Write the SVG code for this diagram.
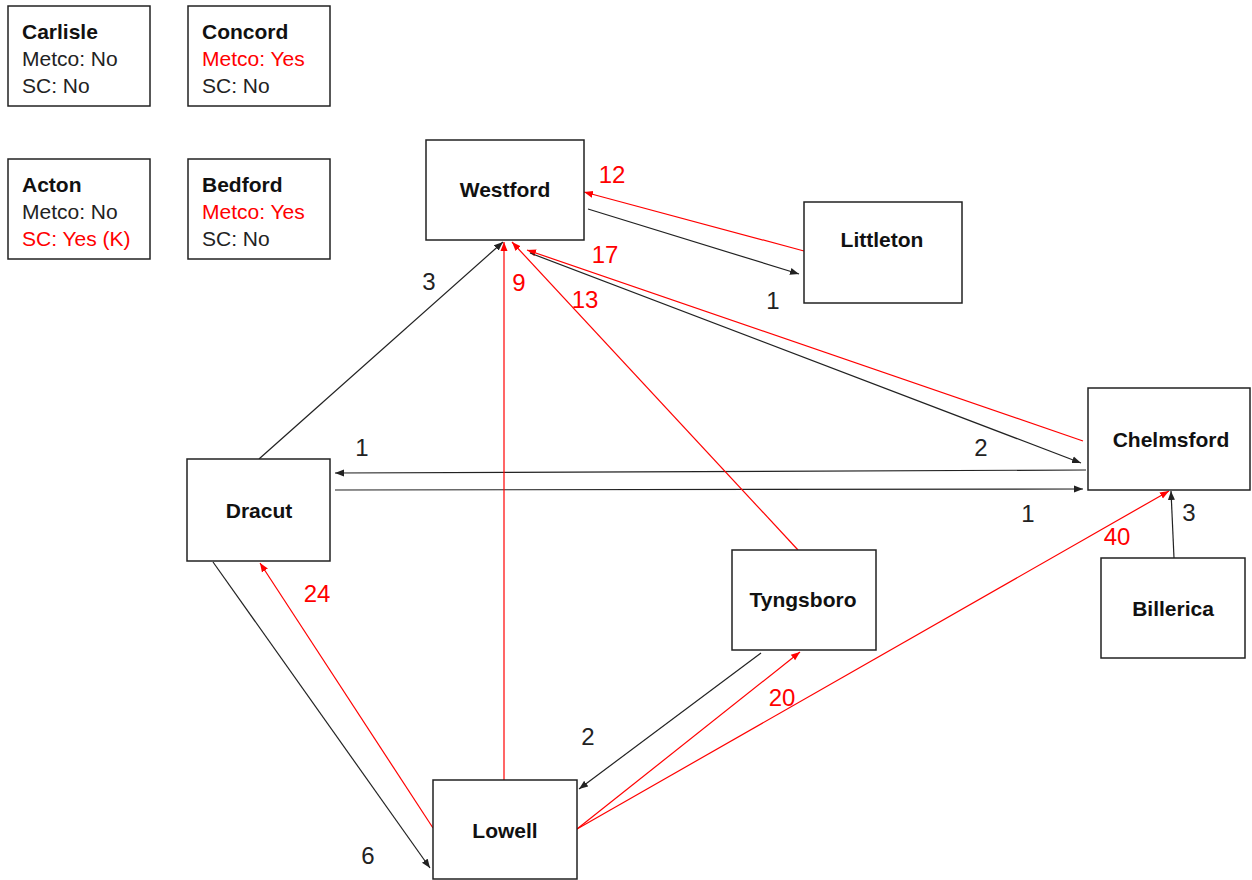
<svg xmlns="http://www.w3.org/2000/svg" width="1252" height="880" viewBox="0 0 1252 880">
<style>
.box{fill:#fff;stroke:#222;stroke-width:1.5}
.nl{font-family:"Liberation Sans",Arial,sans-serif;font-size:21px;font-weight:bold;fill:#111;text-anchor:middle}
.it{font-family:"Liberation Sans",Arial,sans-serif;font-size:21px;fill:#222}
.ib{font-family:"Liberation Sans",Arial,sans-serif;font-size:21px;font-weight:bold;fill:#111}
.red{fill:#ff0000}
.k{stroke:#222;stroke-width:1.2;fill:none;marker-end:url(#ak)}
.r{stroke:#ff0000;stroke-width:1.2;fill:none;marker-end:url(#ar)}
.num{font-family:"Liberation Sans",Arial,sans-serif;font-size:24px;text-anchor:middle;fill:#222}
.numr{font-family:"Liberation Sans",Arial,sans-serif;font-size:24px;text-anchor:middle;fill:#ff0000}
</style>
<defs>
<marker id="ak" markerUnits="userSpaceOnUse" markerWidth="10" markerHeight="8" refX="9" refY="4" orient="auto"><path d="M0,0.5 L9,4 L0,7.5 Z" fill="#222"/></marker>
<marker id="ar" markerUnits="userSpaceOnUse" markerWidth="10" markerHeight="8" refX="9" refY="4" orient="auto"><path d="M0,0.5 L9,4 L0,7.5 Z" fill="#ff0000"/></marker>
</defs>
<rect width="1252" height="880" fill="#fff"/>
<g id="info">
<g id="carlisle"><rect class="box" x="8" y="6" width="142" height="100"/><text class="ib" x="22" y="39">Carlisle</text><text class="it" x="22" y="66">Metco: No</text><text class="it" x="22" y="93">SC: No</text></g>
<g id="concord"><rect class="box" x="188" y="6" width="142" height="100"/><text class="ib" x="202" y="39">Concord</text><text class="it red" x="202" y="66">Metco: Yes</text><text class="it" x="202" y="93">SC: No</text></g>
<g id="acton"><rect class="box" x="8" y="159" width="142" height="100"/><text class="ib" x="22" y="192">Acton</text><text class="it" x="22" y="219">Metco: No</text><text class="it red" x="22" y="246">SC: Yes (K)</text></g>
<g id="bedford"><rect class="box" x="188" y="159" width="142" height="100"/><text class="ib" x="202" y="192">Bedford</text><text class="it red" x="202" y="219">Metco: Yes</text><text class="it" x="202" y="246">SC: No</text></g>
</g>
<g id="connectors">
<line class="r" x1="804" y1="251" x2="584" y2="192"/>
<line class="k" x1="588" y1="209" x2="799" y2="274"/>
<line class="r" x1="1083" y1="441" x2="527" y2="250"/>
<line class="k" x1="530" y1="253" x2="1081" y2="463"/>
<line class="k" x1="1086" y1="470" x2="335" y2="473"/>
<line class="k" x1="335" y1="490" x2="1083" y2="489"/>
<line class="k" x1="1174" y1="558" x2="1171" y2="491"/>
<line class="r" x1="577" y1="829" x2="1169" y2="491"/>
<line class="r" x1="577" y1="829" x2="800" y2="652"/>
<line class="k" x1="761" y1="653" x2="579" y2="789"/>
<line class="r" x1="433" y1="828" x2="260" y2="563"/>
<line class="k" x1="213" y1="562" x2="430" y2="868"/>
<line class="r" x1="504" y1="780" x2="504" y2="242"/>
<line class="r" x1="798" y1="550" x2="512" y2="242"/>
<line class="k" x1="259" y1="459" x2="503" y2="242"/>
<text class="numr" x="612" y="183">12</text>
<text class="num" x="773" y="309">1</text>
<text class="numr" x="605" y="263">17</text>
<text class="numr" x="585" y="308">13</text>
<text class="numr" x="519" y="291">9</text>
<text class="num" x="429" y="290">3</text>
<text class="num" x="981" y="456">2</text>
<text class="num" x="362" y="456">1</text>
<text class="num" x="1028" y="522">1</text>
<text class="num" x="1189" y="521">3</text>
<text class="numr" x="1117" y="545">40</text>
<text class="numr" x="317" y="602">24</text>
<text class="numr" x="782" y="706">20</text>
<text class="num" x="588" y="745">2</text>
<text class="num" x="368" y="864">6</text>
</g>
<g id="westford"><rect class="box" x="426" y="140" width="158" height="100"/><text class="nl" x="505" y="197">Westford</text></g>
<g id="littleton"><rect class="box" x="804" y="202" width="158" height="101"/><text class="nl" x="882" y="247">Littleton</text></g>
<g id="chelmsford"><rect class="box" x="1088" y="388" width="162" height="102"/><text class="nl" x="1171" y="447">Chelmsford</text></g>
<g id="billerica"><rect class="box" x="1101" y="558" width="144" height="100"/><text class="nl" x="1173" y="616">Billerica</text></g>
<g id="dracut"><rect class="box" x="187" y="459" width="143" height="102"/><text class="nl" x="259" y="518">Dracut</text></g>
<g id="tyngsboro"><rect class="box" x="732" y="550" width="144" height="100"/><text class="nl" x="803" y="607">Tyngsboro</text></g>
<g id="lowell"><rect class="box" x="433" y="780" width="144" height="99"/><text class="nl" x="505" y="838">Lowell</text></g>
</svg>
